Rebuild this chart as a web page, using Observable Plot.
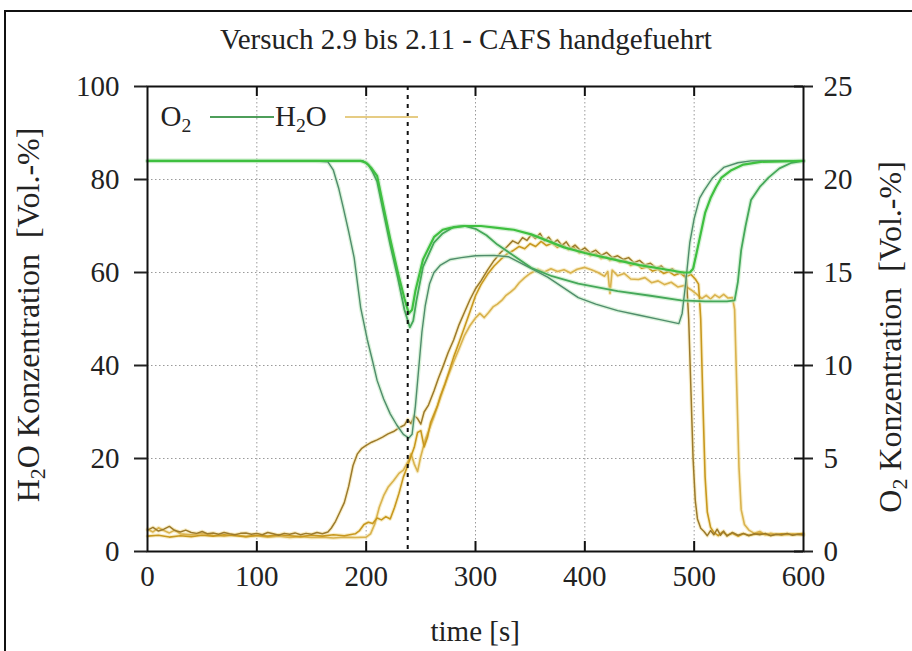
<!DOCTYPE html>
<html><head><meta charset="utf-8">
<script src="https://cdn.jsdelivr.net/npm/d3@7"></script>
<script src="https://cdn.jsdelivr.net/npm/@observablehq/plot@0.6"></script>
<style>
body{margin:0;background:#fff;}
#wrap{position:relative;width:912px;height:651px;overflow:hidden;font-family:"Liberation Serif","Times New Roman",serif;color:#222;}
#border{position:absolute;left:4px;top:10px;width:920px;height:700px;border-left:2px solid #111;border-top:2px solid #111;}
.t{position:absolute;white-space:nowrap;font-size:29px;line-height:1;}
.big{font-size:32px;}
.sub{font-size:0.68em;vertical-align:-0.28em;}
</style></head>
<body><div id="wrap"><div id="border"></div><div id="chart"></div></div>
<script>
// ---------- data ----------
const title = "Versuch 2.9 bis 2.11 - CAFS handgefuehrt";
const xLabel = "time [s]";
const xTicks = [0,100,200,300,400,500,600];
const yTicks = [0,20,40,60,80,100];   // H2O [Vol.-%]
const o2Ticks = [0,5,10,15,20,25];    // O2 [Vol.-%]
const markerTime = 238;

// O2 curves [time s, O2 Vol.-%]
const o2A = [[0,21.0],[50,21.0],[100,21.0],[150,21.0],[165,20.95],[170,20.5],[175,19.5],[179,18.5],[184,17.2],[189,15.8],[195,13.1],[201,11.4],[206,10.2],[210,9.2],[216,8.2],[222,7.4],[228,6.8],[234,6.3],[239,6.1],[242,6.3],[245,7.8],[248,9.8],[251,11.8],[254,13.2],[258,14.4],[262,15.0],[268,15.4],[277,15.7],[287,15.8],[300,15.9],[317,15.92],[330,15.85],[345,15.4],[366,14.75],[380,14.2],[394,13.65],[410,13.3],[430,12.95],[450,12.7],[470,12.45],[486,12.25],[489,12.8],[492,14.3],[496,16.6],[500,17.9],[505,19.0],[509,19.4],[517,20.1],[527,20.65],[540,20.9],[552,21.0],[600,21.0]];
const o2B = [[0,21],[100,21],[150,21],[195,21],[200,20.9],[205,20.6],[210,20.2],[216,18.5],[222,16.8],[229,15.0],[235,13.6],[239,12.8],[242,13.0],[245,14.0],[252,15.7],[262,16.9],[270,17.3],[277,17.4],[290,17.5],[305,17.5],[320,17.4],[335,17.3],[351,17.05],[366,16.7],[381,16.35],[400,16.05],[430,15.65],[450,15.4],[470,15.2],[490,15.0],[496,15.0],[499,15.2],[502,16.0],[506,17.1],[510,18.2],[515,19.0],[520,19.6],[525,20.1],[534,20.5],[545,20.8],[561,20.95],[600,21.0]];
const o2C = [[0,21],[100,21],[150,21],[197,21],[202,20.8],[206,20.4],[210,19.9],[216,18.2],[222,16.5],[229,14.7],[235,13.0],[240,12.05],[243,12.4],[246,13.5],[252,15.3],[262,16.6],[270,17.1],[280,17.45],[290,17.5],[300,17.35],[310,17.0],[320,16.5],[335,15.9],[351,15.25],[370,14.8],[394,14.4],[430,14.0],[460,13.75],[488,13.5],[510,13.45],[530,13.45],[537,13.5],[540,14.5],[543,16.2],[547,17.5],[552,18.9],[560,19.6],[568,20.1],[578,20.6],[589,20.9],[600,21.0]];

// H2O curves [time s, H2O Vol.-%]
const h2oA = [[0,4.6],[5,5.2],[10,4.4],[15,4.8],[20,5.4],[25,4.5],[30,4.2],[35,4.6],[40,4.1],[45,3.9],[50,4.3],[55,3.8],[60,4.0],[65,3.7],[70,4.1],[75,3.8],[80,3.6],[85,3.9],[90,4.0],[95,3.7],[100,3.9],[105,3.6],[110,4.1],[115,3.8],[120,3.5],[125,3.9],[130,3.7],[135,4.0],[140,3.6],[145,3.9],[150,3.7],[155,4.1],[160,3.8],[165,4.2],[168,5.0],[172,6.5],[176,8.5],[180,10.5],[184,14],[188,18.5],[192,21],[196,22.2],[200,22.8],[205,23.5],[210,24],[215,24.6],[220,25.3],[225,25.8],[230,26.6],[235,27.2],[238,28.4],[241,27.5],[244,29.2],[247,28.6],[250,27.4],[253,30.0],[257,31.5],[262,34.5],[266,37.2],[270,39.6],[275,42.8],[280,45.5],[285,48.8],[290,51.5],[295,54.2],[300,56.5],[305,58.2],[311,60.5],[317,62.6],[323,64.3],[329,65.6],[334,66.8],[339,66.2],[343,67.5],[347,66.9],[351,68.1],[355,67.3],[359,68.4],[363,66.8],[367,67.6],[371,66.3],[375,67.0],[379,65.8],[383,66.6],[387,65.2],[391,65.9],[396,64.7],[400,65.3],[405,64.2],[410,64.8],[415,63.7],[420,64.3],[425,63.2],[430,63.6],[435,62.8],[440,63.2],[445,62.1],[450,62.6],[455,61.6],[460,62.0],[465,61.0],[470,61.4],[475,60.3],[480,60.8],[485,59.8],[490,60.1],[493,58.5],[495,50],[497,35],[499,20],[501,11],[503,7],[506,5],[509,4.3],[512,3.4],[515,4.5],[518,3.6],[521,4.8],[524,3.5],[527,4.4],[530,3.3],[535,4.1],[540,3.5],[545,3.9],[550,3.4],[555,3.8],[560,3.6],[565,3.9],[570,3.4],[575,3.7],[580,3.6],[585,3.9],[590,3.5],[595,3.7],[600,3.6]];
const h2oB = [[0,3.3],[10,3.5],[20,3.1],[30,3.4],[40,3.2],[50,3.5],[60,3.3],[70,3.6],[80,3.4],[90,3.2],[100,3.5],[110,3.3],[120,3.6],[130,3.4],[140,3.2],[150,3.5],[160,3.3],[170,3.6],[180,3.4],[190,3.8],[194,4.5],[198,5.8],[202,6.3],[206,6.0],[210,7.2],[214,6.8],[218,7.5],[222,7.0],[226,9.5],[230,12.5],[234,16.0],[238,18.5],[241,20.5],[244,22.4],[247,25.6],[250,26.0],[253,22.5],[256,24.5],[259,27.8],[262,29.5],[265,31.2],[268,33.5],[272,36.0],[276,38.8],[280,41.8],[285,45.0],[290,48.3],[295,51.6],[300,55.0],[305,57.4],[311,59.6],[317,61.4],[323,62.8],[329,64.0],[335,64.8],[340,65.6],[345,65.1],[350,66.2],[355,65.6],[360,66.7],[365,65.8],[370,66.3],[375,65.4],[380,66.0],[385,64.9],[390,65.4],[395,64.2],[400,64.6],[405,63.6],[410,64.1],[415,63.0],[420,63.4],[423,62.6],[427,63.1],[432,62.2],[437,62.6],[442,61.5],[447,61.9],[452,60.9],[457,61.2],[462,60.3],[467,60.7],[472,59.8],[477,60.2],[482,59.4],[487,59.9],[492,59.0],[497,59.6],[501,58.6],[504,57.5],[506,50],[508,32],[510,16],[512,8.5],[515,5.2],[518,4.1],[522,3.4],[526,4.2],[530,3.5],[535,3.9],[540,3.3],[545,3.8],[550,3.5],[560,3.9],[570,3.5],[580,3.8],[590,3.6],[600,3.9]];
const h2oC = [[0,4.8],[5,4.2],[10,5.1],[15,4.5],[20,4.0],[25,4.6],[30,3.8],[40,3.6],[50,3.9],[60,3.5],[70,3.3],[80,3.6],[90,3.2],[100,3.4],[110,3.1],[120,3.3],[130,3.0],[140,3.2],[150,3.0],[160,3.1],[170,2.9],[180,3.1],[190,3.0],[200,3.1],[204,3.8],[208,6.0],[212,9.5],[216,12.0],[220,13.8],[225,15.2],[230,16.8],[234,17.5],[238,19.2],[241,21.0],[244,18.8],[247,17.2],[250,20.5],[254,24.0],[258,26.5],[262,29.0],[266,31.8],[270,34.5],[275,37.8],[280,40.8],[285,43.6],[290,46.5],[295,48.6],[300,50.2],[304,51.2],[308,50.3],[312,51.4],[316,52.6],[320,53.2],[324,54.0],[328,55.1],[332,55.8],[336,56.6],[340,57.8],[345,58.9],[350,59.8],[357,60.7],[363,60.1],[369,60.8],[375,60.2],[381,60.6],[387,59.9],[393,60.7],[400,61.1],[406,60.6],[412,60.0],[418,59.2],[421,60.2],[423,55.5],[425,60.5],[430,59.3],[436,59.8],[442,58.6],[449,58.5],[455,58.9],[461,57.8],[467,58.2],[473,57.4],[479,57.9],[485,56.9],[491,57.2],[497,56.3],[502,55.4],[507,54.4],[511,55.1],[515,54.3],[519,55.2],[523,54.6],[527,55.3],[531,54.5],[535,54.6],[537,52],[539,35],[541,18],[543,9],[546,5.8],[550,4.6],[555,3.9],[560,4.3],[565,3.6],[570,3.9],[580,3.5],[590,3.8],[600,3.5]];

// ---------- chart ----------
const W = 912, H = 651, mL = 147, mR = 109, mT = 86, mB = 100;
const innerW = W - mL - mR, innerH = H - mT - mB;
const o2Scale = 4; // O2 axis 0–25 maps onto H2O axis 0–100

const h2oSeries = [
  {data: h2oC, color: "#d9b24e", w: 1.6},
  {data: h2oB, color: "#c8981f", w: 1.6},
  {data: h2oA, color: "#9c7a2c", w: 1.5}
];
const o2Series = [
  {data: o2A, color: "#4f8c6c", w: 1.4},
  {data: o2C, color: "#45a85a", w: 1.8},
  {data: o2B, color: "#3fc040", w: 2.2}
];

const marks = [
  Plot.gridX(xTicks.slice(1, -1), {stroke: "#9a9a9a", strokeOpacity: 1, strokeDasharray: "1.5,2.5", strokeWidth: 1}),
  Plot.gridY(yTicks.slice(1, -1), {stroke: "#9a9a9a", strokeOpacity: 1, strokeDasharray: "1.5,2.5", strokeWidth: 1}),
  ...h2oSeries.map(s => Plot.line(s.data, {x: d => d[0], y: d => d[1], stroke: "#f3e2a6", strokeWidth: s.w + 2.2, strokeOpacity: 0.6})),
  ...h2oSeries.map(s => Plot.line(s.data, {x: d => d[0], y: d => d[1], stroke: s.color, strokeWidth: s.w})),
  ...o2Series.map(s => Plot.line(s.data, {x: d => d[0], y: d => d[1] * o2Scale, stroke: "#bfeabf", strokeWidth: s.w + 2.5, strokeOpacity: 0.6})),
  ...o2Series.map(s => Plot.line(s.data, {x: d => d[0], y: d => d[1] * o2Scale, stroke: s.color, strokeWidth: s.w})),
  Plot.ruleX([markerTime], {stroke: "#111", strokeWidth: 2, strokeDasharray: "4,5"}),
  Plot.frame({stroke: "#111", strokeWidth: 2}),
  Plot.tickX(xTicks.slice(1, -1), {x: d => d, insetTop: innerH - 10, stroke: "#111", strokeWidth: 2}),
  Plot.tickX(xTicks.slice(1, -1), {x: d => d, insetBottom: innerH - 10, stroke: "#111", strokeWidth: 2}),
  Plot.tickY(o2Ticks.map(v => v * o2Scale), {y: d => d, insetLeft: innerW - 9, stroke: "#111", strokeWidth: 2}),
  Plot.axisX(xTicks, {anchor: "bottom", tickSize: 0, tickPadding: 14, label: null, fill: "#222"}),
  Plot.axisY(yTicks, {anchor: "left", tickSize: 13, tickPadding: 15, strokeWidth: 2, label: null, fill: "#222"}),
  Plot.axisY(o2Ticks.map(v => v * o2Scale), {anchor: "right", tickSize: 9, tickPadding: 11, strokeWidth: 2, tickFormat: d => d / o2Scale, label: null, fill: "#222"})
];

const chart = Plot.plot({
  width: W, height: H,
  marginLeft: mL, marginRight: mR, marginTop: mT, marginBottom: mB,
  x: {domain: [0, 600]},
  y: {domain: [0, 100]},
  style: {fontFamily: "Liberation Serif, serif", fontSize: "29px", background: "transparent", overflow: "visible"},
  marks
});
chart.style.position = "absolute";
chart.style.left = "0px";
chart.style.top = "0px";
document.getElementById("chart").appendChild(chart);

// ---------- text overlays ----------
const wrap = document.getElementById("wrap");
function addText(html, cx, cy, rotate, cls) {
  const d = document.createElement("div");
  d.className = "t" + (cls ? " " + cls : "");
  d.innerHTML = html;
  wrap.appendChild(d);
  const w = d.offsetWidth, h = d.offsetHeight;
  d.style.left = (cx - w / 2) + "px";
  d.style.top = (cy - h / 2) + "px";
  if (rotate) d.style.transform = `rotate(${rotate}deg)`;
  return d;
}
addText(title, 466, 39);
addText(xLabel, 475, 631);
addText('H<span class="sub">2</span>O Konzentration&nbsp;&nbsp;[Vol.-%]', 31, 315, -90, "big");
addText('O<span class="sub">2</span> Konzentration&nbsp;&nbsp;[Vol.-%]', 893, 337, -90, "big");

// legend
function legendLine(x1, x2, y, color) {
  const d = document.createElement("div");
  d.style.cssText = `position:absolute;left:${x1}px;top:${y - 1}px;width:${x2 - x1}px;height:2px;background:${color};`;
  wrap.appendChild(d);
}
legendLine(210, 274, 117, "#4e9e5a");
legendLine(345, 418, 117, "#e6cc84");
addText('O<span class="sub">2</span>', 176, 118);
addText('H<span class="sub">2</span>O', 301, 118);
</script>
</body></html>
